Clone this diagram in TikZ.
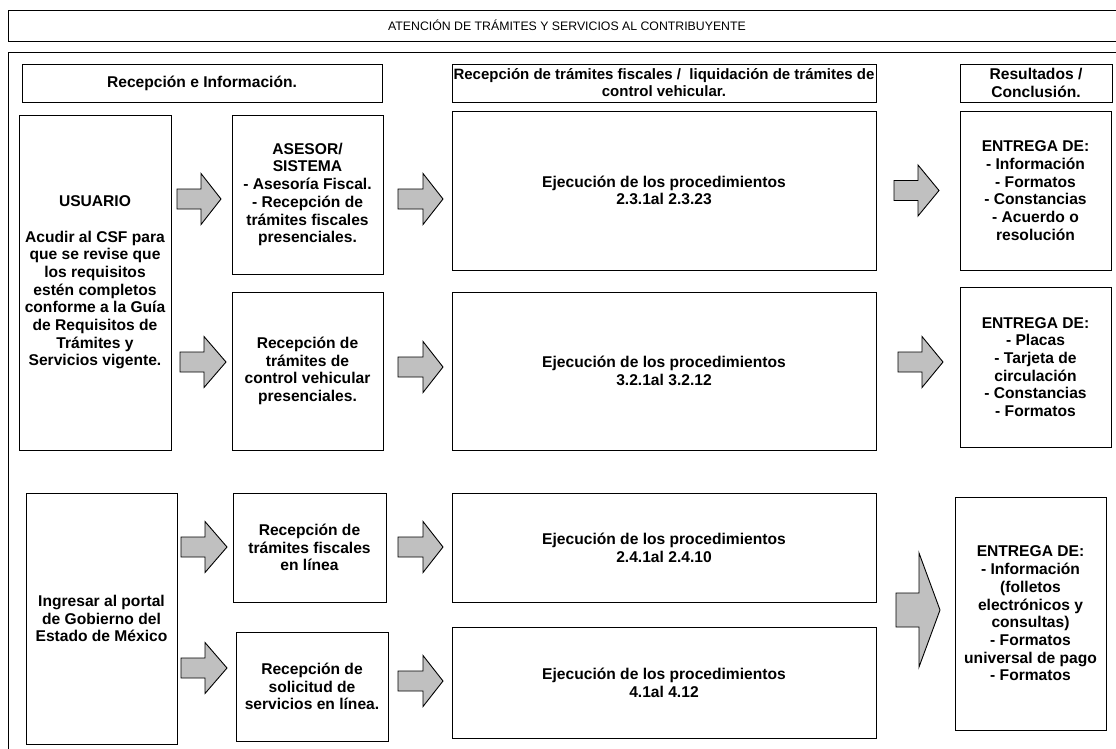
\documentclass[tikz,border=0pt]{standalone}
\usepackage{fontspec}
\setmainfont{Liberation Sans}
\definecolor{arrowgray}{RGB}{192,192,192}
% block arrow: shaft left x, head base x, tip x, centre y, shaft half height, head half height
\newcommand\garrow[6]{%
  \draw[blockarrow] (#1,#4-#5) -- (#2,#4-#5) -- (#2,#4-#6) -- (#3,#4)
    -- (#2,#4+#6) -- (#2,#4+#5) -- (#1,#4+#5) -- cycle;}
\begin{document}
\begin{tikzpicture}[x=1pt,y=-1pt,
  frame/.style={draw=black,line width=0.9pt},
  box/.style={draw=black,line width=0.9pt,align=center,inner sep=0pt,
    font=\fontsize{15.6}{17.7}\selectfont\bfseries},
  blockarrow/.style={draw=black,line width=0.9pt,fill=arrowgray,line join=miter}]
\useasboundingbox (0,0) rectangle (1116,748);
\clip (0,0) rectangle (1116,748);
\fill[white] (0,0) rectangle (1116,748);

% outer frames
\node[frame,minimum width=1118pt,minimum height=31pt,inner sep=0pt,
  font=\fontsize{12.3}{14}\selectfont] (title) at (567,25.5)
  {ATENCIÓN DE TRÁMITES Y SERVICIOS AL CONTRIBUYENTE};
\node[frame,minimum width=1118pt,minimum height=720pt,inner sep=0pt] (main) at (567,412) {};

% column headers
\node[box,minimum width=360pt,minimum height=38pt] (h1) at (202,83) {Recepción e Información.};
\node[box,minimum width=424pt,minimum height=38pt,
  font=\fontsize{15}{17}\selectfont\bfseries] (h2) at (664,83)
  {Recepción de trámites fiscales /\ \ liquidación de trámites de\\control vehicular.};
\node[box,minimum width=152pt,minimum height=38pt] (h3) at (1036,83) {Resultados /\\Conclusión.};

% presencial rows
\node[box,minimum width=152pt,minimum height=335pt] (usuario) at (95,282.5)
  {USUARIO\\[17.7pt]Acudir al CSF para\\que se revise que\\los requisitos\\estén completos\\conforme a la Guía\\de Requisitos de\\Trámites y\\Servicios vigente.};
\node[box,minimum width=151pt,minimum height=159pt] (asesor) at (307.5,194.5)
  {ASESOR/\\SISTEMA\\- Asesoría Fiscal.\\- Recepción de\\trámites fiscales\\presenciales.};
\node[box,minimum width=151pt,minimum height=158pt] (vehic) at (307.5,371)
  {Recepción de\\trámites de\\control vehicular\\presenciales.};
\node[box,minimum width=424pt,minimum height=159pt] (ejec1) at (664,190.5)
  {Ejecución de los procedimientos\\2.3.1al 2.3.23};
\node[box,minimum width=424pt,minimum height=158pt] (ejec2) at (664,371)
  {Ejecución de los procedimientos\\3.2.1al 3.2.12};
\node[box,minimum width=151pt,minimum height=159pt] (ent1) at (1035.5,190.5)
  {ENTREGA DE:\\- Información\\- Formatos\\- Constancias\\- Acuerdo o\\resolución};
\node[box,minimum width=151pt,minimum height=160pt] (ent2) at (1035.5,367)
  {ENTREGA DE:\\- Placas\\- Tarjeta de\\circulación\\- Constancias\\- Formatos};

% online rows
\node[box,minimum width=151pt,minimum height=251pt] (ingresar) at (101.5,618.5)
  {Ingresar al portal\\de Gobierno del\\Estado de México};
\node[box,minimum width=153pt,minimum height=109pt] (fisc) at (309.5,547.5)
  {Recepción de\\trámites fiscales\\en línea};
\node[box,minimum width=152pt,minimum height=109pt] (solic) at (312,686.5)
  {Recepción de\\solicitud de\\servicios en línea.};
\node[box,minimum width=424pt,minimum height=109pt] (ejec3) at (664,547.5)
  {Ejecución de los procedimientos\\2.4.1al 2.4.10};
\node[box,minimum width=424pt,minimum height=111pt] (ejec4) at (664,682.5)
  {Ejecución de los procedimientos\\4.1al 4.12};
\node[box,minimum width=151pt,minimum height=233pt] (ent3) at (1030.5,613.5)
  {ENTREGA DE:\\- Información\\(folletos\\electrónicos y\\consultas)\\- Formatos\\universal de pago\\- Formatos};

% block arrows between the columns
\garrow{177}{201}{221}{199}{10}{25.5}
\garrow{180}{204}{226}{362}{10}{25.5}
\garrow{398}{423}{443}{199}{10}{25.5}
\garrow{398}{423}{443}{367}{10}{25.5}
\garrow{894}{918}{939}{190.5}{10}{25.5}
\garrow{898}{922}{943}{362}{10}{25.5}
\garrow{181}{205}{227}{547}{10}{25.5}
\garrow{181}{205}{227}{668}{10}{25.5}
\garrow{398}{423}{443}{547}{10}{25.5}
\garrow{398}{423}{443}{681}{10}{25.5}
\garrow{896}{919}{940}{610}{17}{57}
\end{tikzpicture}
\end{document}
